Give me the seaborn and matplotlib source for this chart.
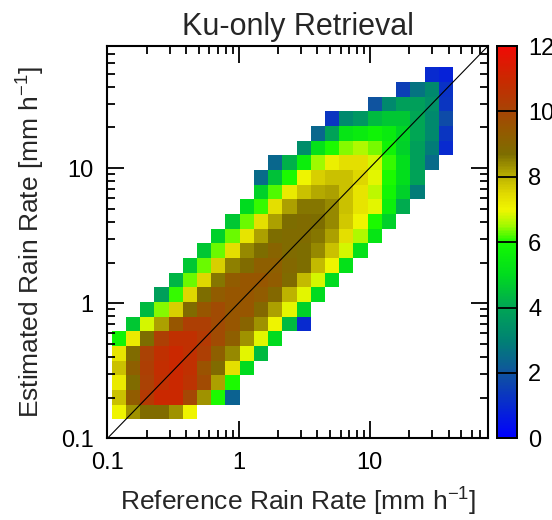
import numpy as np
import pandas as pd
import matplotlib
matplotlib.use("Agg")
import matplotlib.pyplot as plt
from matplotlib.colors import LinearSegmentedColormap
from matplotlib.ticker import FixedLocator, NullFormatter, FixedFormatter
import seaborn as sns

# Log-spaced bin grid (log10 units)
edge0 = -0.968
bin_w = 0.1085
n_cols = 24
n_rows = 26

# Each row of the 2-D histogram: (row index, first column, cell values)
row_idx = list(range(1, 25))
row_start = [0, 0, 0, 0, 0, 0, 1, 2, 3, 4, 5, 6, 7, 8, 9, 10, 10, 11, 13, 14, 15, 18, 20, 22]
row_vals = [
    [7.0, 8.3, 8.8, 8.8, 8.3, 7.0],
    [7.8, 9.3, 10.4, 11.0, 11.0, 9.9, 8.3, 6.0, 2.3],
    [7.2, 8.8, 10.1, 10.7, 11.0, 10.6, 9.8, 8.2, 6.0],
    [7.8, 9.2, 10.2, 10.8, 11.0, 10.7, 9.6, 8.8, 7.4, 5.0],
    [7.3, 8.8, 10.1, 10.7, 11.0, 10.7, 10.2, 9.2, 8.4, 6.9, 4.4],
    [5.8, 7.2, 8.7, 10.2, 10.7, 10.7, 10.4, 9.8, 9.2, 8.3, 6.9, 5.0],
    [4.6, 6.8, 8.2, 9.5, 10.2, 10.2, 9.8, 9.5, 9.0, 8.3, 7.0, 4.4, 1.0],
    [4.4, 6.4, 7.6, 8.8, 9.5, 9.8, 9.5, 9.5, 8.9, 8.2, 6.9, 4.8],
    [3.8, 6.1, 7.5, 8.7, 9.3, 9.5, 9.5, 9.3, 8.9, 8.0, 6.9, 5.0],
    [4.3, 6.3, 7.5, 8.6, 9.3, 9.5, 9.5, 9.3, 8.8, 7.9, 6.8, 5.0],
    [4.6, 6.3, 7.6, 8.5, 8.8, 9.2, 9.2, 8.9, 8.7, 7.9, 7.0, 5.2],
    [4.6, 6.3, 7.4, 8.4, 8.7, 9.0, 8.8, 8.7, 8.4, 7.8, 6.8, 5.2],
    [4.8, 6.3, 7.3, 8.2, 8.7, 8.8, 8.8, 8.6, 8.2, 7.4, 6.6, 5.3],
    [4.6, 6.3, 7.4, 8.2, 8.7, 8.8, 8.7, 8.4, 7.7, 7.0, 6.0, 4.8],
    [5.0, 6.1, 7.4, 8.2, 8.6, 8.6, 8.4, 7.8, 7.3, 6.9, 5.6, 4.1],
    [4.8, 6.2, 7.2, 7.8, 8.1, 8.2, 7.8, 7.3, 6.7, 5.9, 4.8, 2.9],
    [2.5, 4.5, 6.0, 7.0, 7.6, 7.8, 7.8, 7.5, 6.9, 6.0, 5.1, 3.9],
    [2.4, 4.2, 5.6, 6.5, 7.1, 7.4, 7.4, 6.8, 6.1, 5.1, 3.8, 2.5],
    [3.3, 5.2, 6.0, 6.4, 6.6, 6.35, 5.8, 4.8, 3.8, 2.9, 1.0],
    [2.4, 3.9, 5.3, 5.5, 5.8, 5.5, 4.9, 4.0, 3.2, 1.3],
    [1.3, 3.2, 3.6, 4.4, 4.6, 4.6, 4.0, 3.2, 1.8],
    [2.0, 3.2, 3.8, 3.8, 3.4, 1.3],
    [1.5, 2.7, 3.2, 1.2],
    [1.0, 0.8],
]

cbar_ticks = [0, 2, 4, 6, 8, 10, 12]
axis_ticks = [0.1, 1, 10]
axis_labels = ["0.1", "1", "10"]

# Build a long table of bin centres with their values as weights
edges = edge0 + bin_w * np.arange(n_rows + 1)
xs, ys, ws = [], [], []
for r, s, vals in zip(row_idx, row_start, row_vals):
    for k, v in enumerate(vals):
        xs.append(edges[s + k] + bin_w / 2)
        ys.append(edges[r] + bin_w / 2)
        ws.append(v)
df = pd.DataFrame({"logx": xs, "logy": ys, "w": ws})

cmap = LinearSegmentedColormap.from_list("rain", [
    (0 / 12, (0.00, 0.00, 1.00)),
    (2 / 12, (0.06, 0.33, 0.62)),
    (3 / 12, (0.00, 0.51, 0.45)),
    (4 / 12, (0.00, 0.65, 0.33)),
    (5 / 12, (0.00, 0.86, 0.12)),
    (6 / 12, (0.08, 0.98, 0.00)),
    (6.5 / 12, (0.63, 0.98, 0.00)),
    (7 / 12, (0.94, 0.96, 0.00)),
    (7.5 / 12, (0.88, 0.85, 0.00)),
    (8 / 12, (0.74, 0.70, 0.00)),
    (8.7 / 12, (0.49, 0.43, 0.00)),
    (9.5 / 12, (0.59, 0.34, 0.00)),
    (10 / 12, (0.65, 0.27, 0.02)),
    (11 / 12, (0.79, 0.16, 0.00)),
    (12 / 12, (0.94, 0.04, 0.02)),
])
cmap.set_bad((1, 1, 1, 0))

sns.set_theme(style="ticks")
plt.rcParams["font.family"] = ["Liberation Sans", "DejaVu Sans"]
plt.rcParams["mathtext.fontset"] = "custom"
plt.rcParams["mathtext.rm"] = "Liberation Sans"
plt.rcParams["mathtext.it"] = "Liberation Sans"

rect = [0.1947, 0.1571, 0.6893, 0.7544]
fig = plt.figure(figsize=(5.52, 5.2), dpi=100)
ax = fig.add_axes(rect)
cax = fig.add_axes([0.9004, 0.1571, 0.0362, 0.7544])

sns.histplot(data=df, x="logx", y="logy", weights="w", bins=[edges[:n_cols + 1], edges],
             cmap=cmap, vmin=0, vmax=12, cbar=True, cbar_ax=cax, ax=ax)

# 1:1 reference line
lo, hi = np.log10(0.1), np.log10(80)
ax.plot([lo, hi], [lo, hi], color="black", lw=0.8)
ax.set_xlim(lo, hi)
ax.set_ylim(lo, hi)
ax.axis("off")

# Frame, ticks and labels live on a transparent axes drawn above the cells
fr = fig.add_axes(rect, facecolor="none", zorder=ax.get_zorder() + 2)
fr.set_xlim(lo, hi)
fr.set_ylim(lo, hi)
major = np.log10(axis_ticks)
minor = [np.log10(m * 10.0 ** p) for p in (-1, 0, 1) for m in range(2, 10) if m * 10.0 ** p <= 80]
for a in (fr.xaxis, fr.yaxis):
    a.set_major_locator(FixedLocator(major))
    a.set_major_formatter(FixedFormatter(axis_labels))
    a.set_minor_locator(FixedLocator(minor))
    a.set_minor_formatter(NullFormatter())
fr.tick_params(which="both", direction="in", width=1.3, color="black",
               bottom=True, left=True, top=True, right=True)
fr.tick_params(which="major", length=12, labelsize=17, labelcolor="black", pad=10)
fr.tick_params(which="minor", length=6)
for sp in fr.spines.values():
    sp.set_visible(True)
    sp.set_color("black")
    sp.set_linewidth(1.5)

fr.set_title("Ku-only Retrieval", fontsize=22, pad=8)
fr.set_xlabel("Reference Rain Rate [mm h$^{-1}$]", fontsize=19, labelpad=8)
fr.set_ylabel("Estimated Rain Rate [mm h$^{-1}$]", fontsize=19, labelpad=10)

cax.set_yticks(cbar_ticks)
cax.tick_params(which="both", length=0, labelsize=17, pad=8, labelcolor="black")
for t in cbar_ticks[1:-1]:
    cax.axhline(t, color="black", lw=1.3)
for sp in cax.spines.values():
    sp.set_visible(True)
    sp.set_color("black")
    sp.set_linewidth(1.3)

fig.savefig("out.png", dpi=100)
